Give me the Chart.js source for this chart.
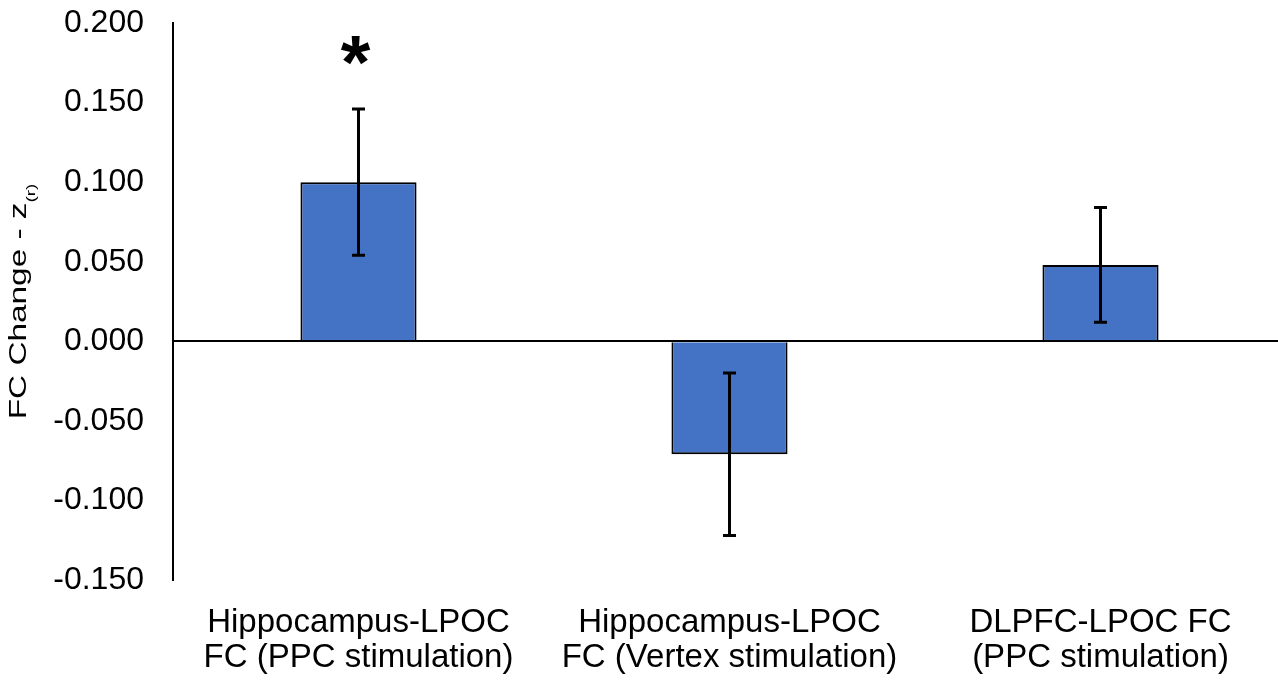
<!DOCTYPE html>
<html>
<head>
<meta charset="utf-8">
<script src="https://cdn.jsdelivr.net/npm/chart.js@4"></script>
<style>
  html, body { margin: 0; padding: 0; background: #fff; overflow: hidden; }
  #wrap { width: 1290px; height: 685px; }
</style>
</head>
<body>
<div id="wrap"><canvas id="chart" width="1290" height="685"></canvas></div>
<script>
// Functional connectivity change per condition (mean and error)
const categories = [
  ['Hippocampus-LPOC', 'FC (PPC stimulation)'],
  ['Hippocampus-LPOC', 'FC (Vertex stimulation)'],
  ['DLPFC-LPOC FC', '(PPC stimulation)']
];
const fcChange = [0.100, -0.071, 0.048];
const fcError = [0.046, 0.051, 0.036];
const significance = ['*', '', ''];
const yTicks = [-0.150, -0.100, -0.050, 0.000, 0.050, 0.100, 0.150, 0.200];
const yTitleMain = 'FC Change - z';
const yTitleSub = '(r)';

const FONT = "'Liberation Sans', Arial, sans-serif";

// Error bars with caps, plus significance markers above them
const errorBars = {
  id: 'errorBars',
  afterDatasetsDraw(chart) {
    const { ctx } = chart;
    const y = chart.scales.y;
    const meta = chart.getDatasetMeta(0);
    ctx.save();
    ctx.strokeStyle = '#000';
    ctx.lineWidth = 3;
    meta.data.forEach((bar, i) => {
      const v = fcChange[i], e = fcError[i];
      const top = y.getPixelForValue(v + e);
      const bot = y.getPixelForValue(v - e);
      const x = bar.x, cap = 6.5;
      ctx.beginPath();
      ctx.moveTo(x, top); ctx.lineTo(x, bot);
      ctx.moveTo(x - cap, top); ctx.lineTo(x + cap, top);
      ctx.moveTo(x - cap, bot); ctx.lineTo(x + cap, bot);
      ctx.stroke();
      if (significance[i]) {
        ctx.fillStyle = '#000';
        ctx.font = 'bold 76px ' + FONT;
        ctx.textAlign = 'center';
        ctx.textBaseline = 'alphabetic';
        const m = ctx.measureText(significance[i]);
        const cy = top - 58;
        const base = cy + (m.actualBoundingBoxAscent - m.actualBoundingBoxDescent) / 2;
        ctx.fillText(significance[i], x - 3, base);
      }
    });
    ctx.restore();
  }
};

// Rotated y-axis title with a subscript
const yTitle = {
  id: 'yTitle',
  afterDraw(chart) {
    const { ctx, chartArea } = chart;
    const cy = (chartArea.top + chartArea.bottom) / 2;
    const stretch = 1.45;
    ctx.save();
    ctx.translate(26, cy);
    ctx.rotate(-Math.PI / 2);
    ctx.scale(stretch, 1);
    ctx.fillStyle = '#000';
    ctx.textBaseline = 'alphabetic';
    ctx.textAlign = 'left';
    ctx.font = '23px ' + FONT;
    const wMain = ctx.measureText(yTitleMain).width;
    ctx.font = '13px ' + FONT;
    const wSub = ctx.measureText(yTitleSub).width;
    const start = -(wMain + wSub) / 2;
    ctx.font = '23px ' + FONT;
    ctx.fillText(yTitleMain, start, 0);
    ctx.font = '13px ' + FONT;
    ctx.fillText(yTitleSub, start + wMain, 9);
    ctx.restore();
  }
};

new Chart(document.getElementById('chart'), {
  type: 'bar',
  data: {
    labels: categories,
    datasets: [{
      data: fcChange,
      backgroundColor: '#4472C4',
      borderColor: '#000',
      borderWidth: 2,
      categoryPercentage: 1,
      barPercentage: 0.313
    }]
  },
  options: {
    responsive: false,
    devicePixelRatio: 1,
    animation: false,
    layout: { padding: { top: 23, right: 4, left: 0, bottom: 0 } },
    plugins: { legend: { display: false }, tooltip: { enabled: false } },
    scales: {
      x: {
        grid: { display: false },
        border: { display: false },
        ticks: {
          color: '#000',
          padding: 17,
          maxRotation: 0,
          autoSkip: false,
          font: { family: FONT, size: 33, lineHeight: 1.06 }
        },
        afterFit(s) { s.height = 105; s.paddingLeft = 0; s.paddingRight = 0; }
      },
      y: {
        min: -0.15,
        max: 0.2,
        afterBuildTicks(s) { s.ticks = yTicks.map(v => ({ value: v })); },
        border: { display: true, color: '#000', width: 2 },
        grid: {
          drawTicks: false,
          lineWidth: 2,
          color: c => (c.tick && c.tick.value === 0 ? '#000' : 'rgba(0,0,0,0)')
        },
        ticks: {
          color: '#000',
          padding: 29,
          font: { family: FONT, size: 32 },
          callback: v => Number(v).toFixed(3)
        },
        afterFit(s) { s.width = 173; s.paddingTop = 0; s.paddingBottom = 0; }
      }
    }
  },
  plugins: [errorBars, yTitle]
});
</script>
</body>
</html>
